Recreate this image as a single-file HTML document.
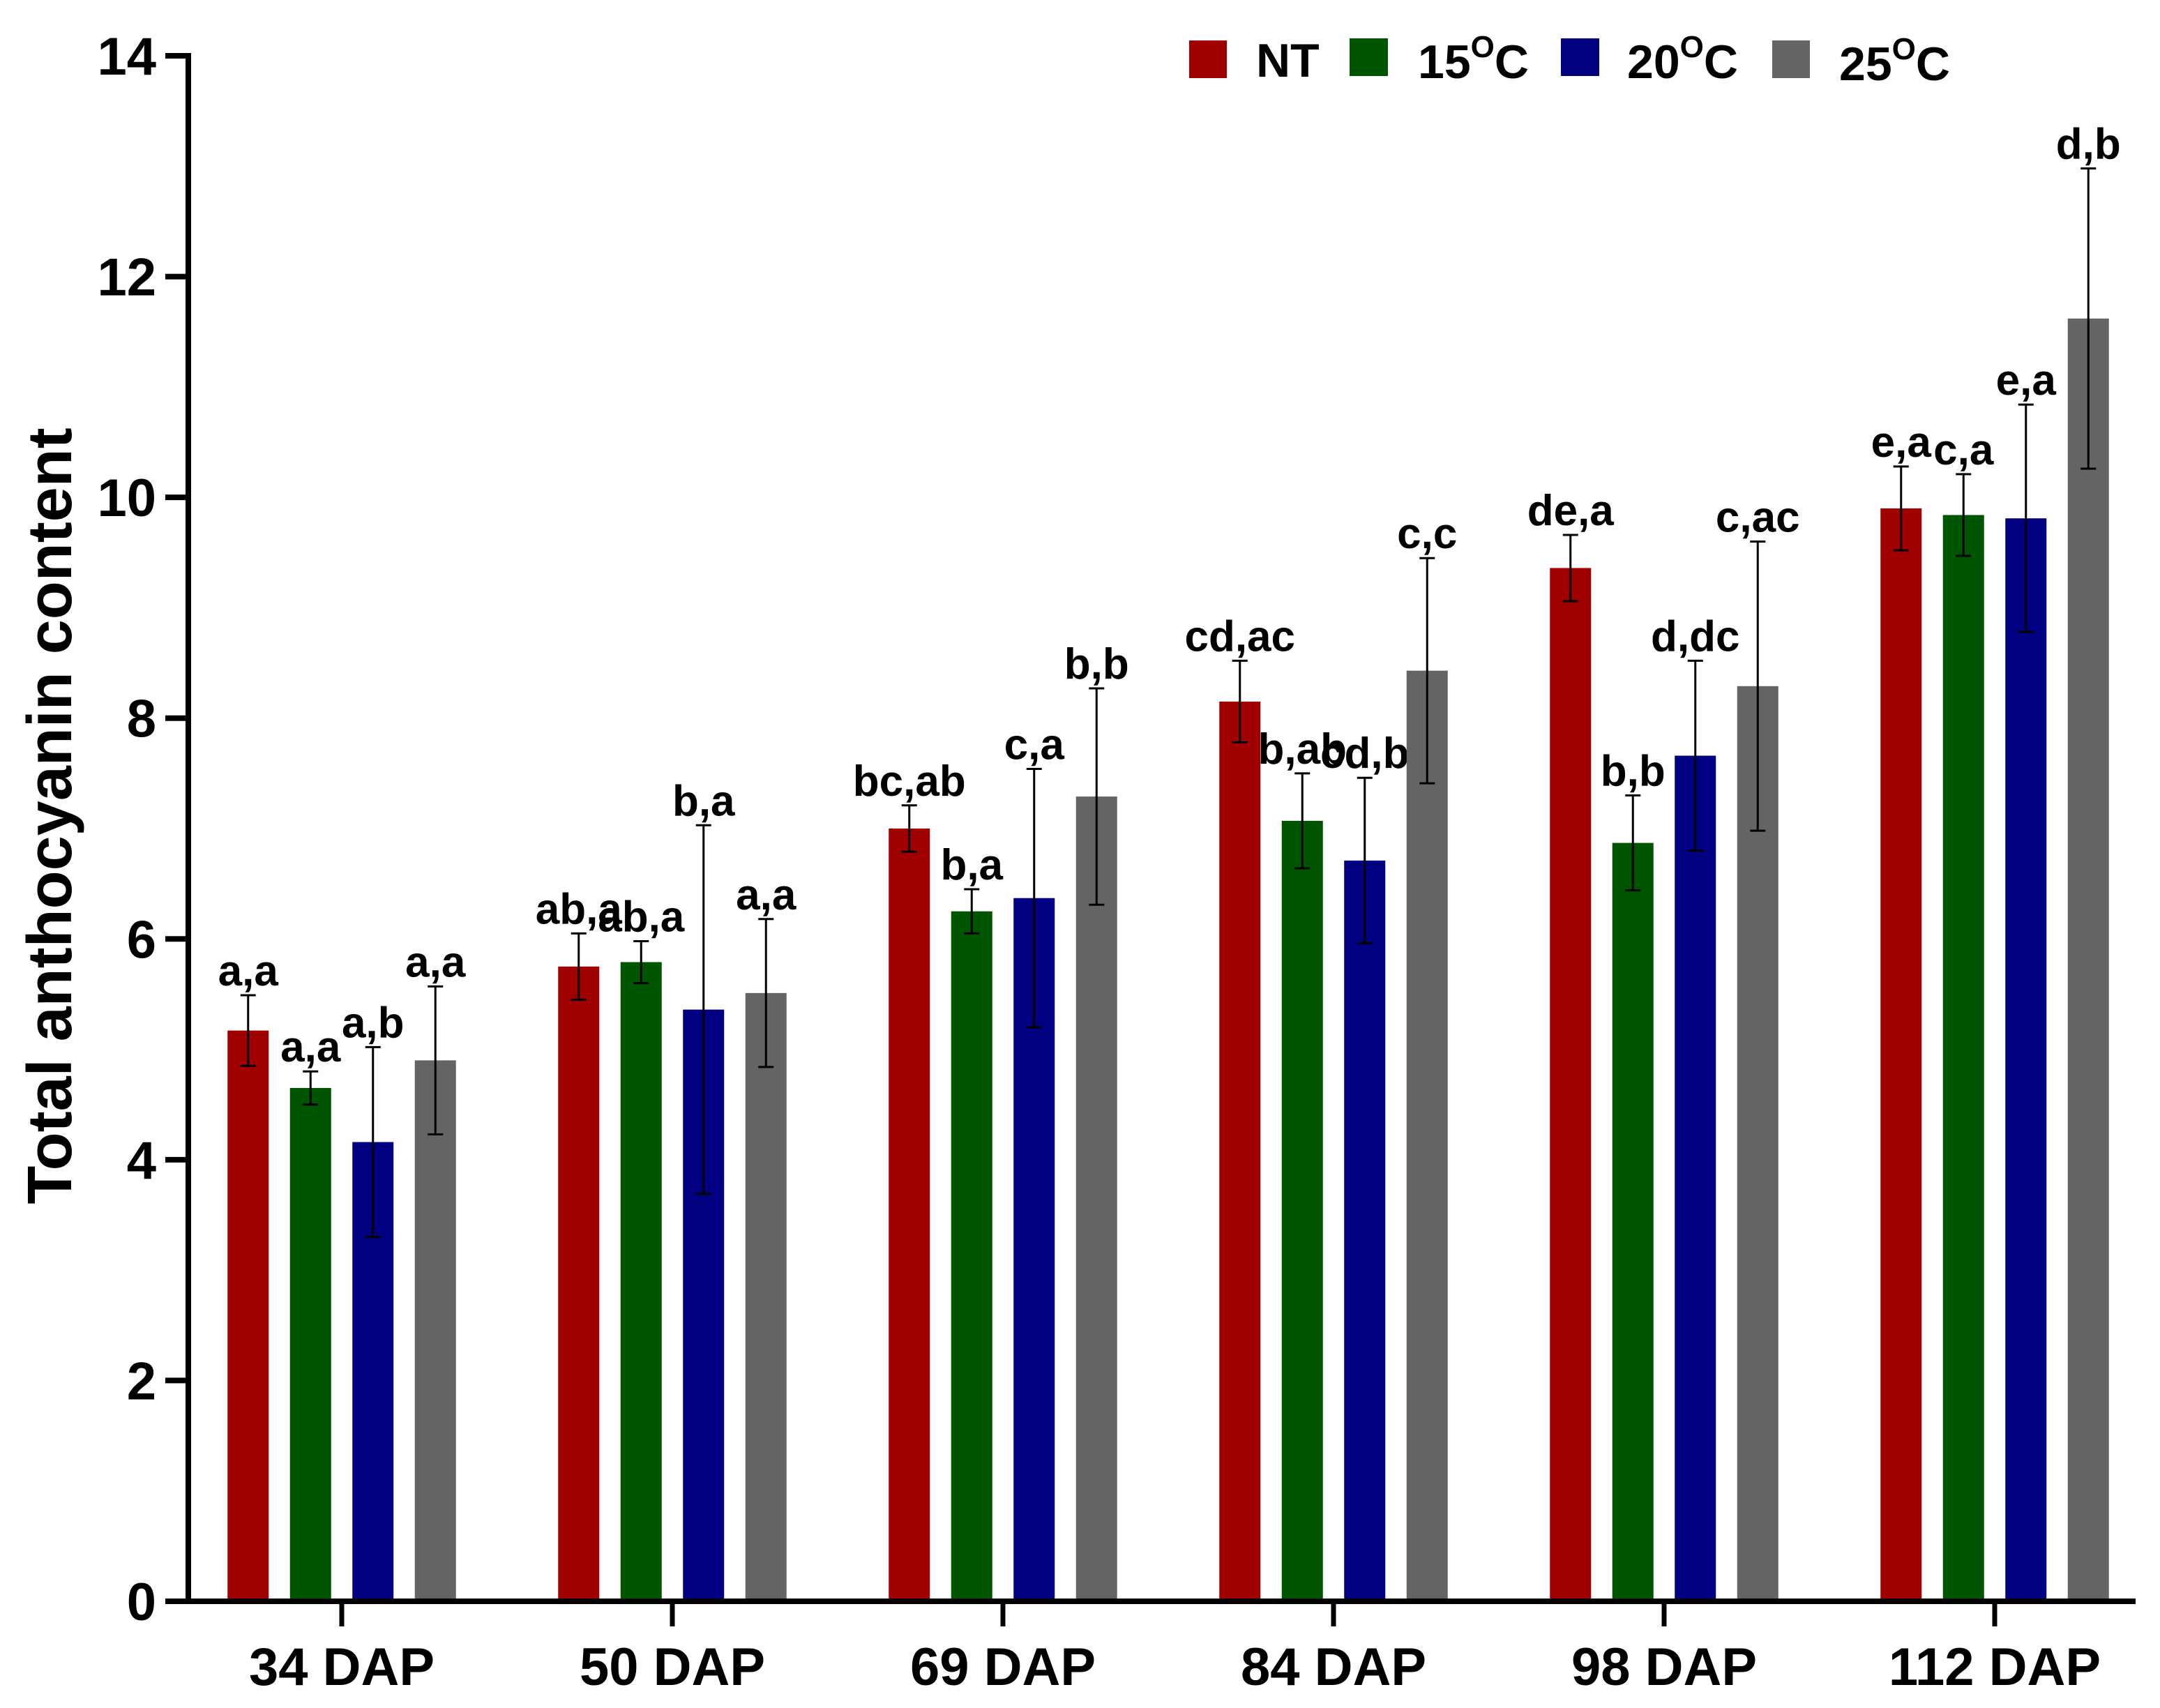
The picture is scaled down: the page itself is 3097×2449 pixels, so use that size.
<!DOCTYPE html>
<html><head><meta charset="utf-8"><style>
html,body{margin:0;padding:0;background:#fff}
svg{display:block}
text{font-family:"Liberation Sans",sans-serif;font-weight:bold;fill:#000}
</style></head><body>
<svg id="chart" width="3097" height="2449" viewBox="0 0 3097 2449" xmlns="http://www.w3.org/2000/svg">
<g id="legend">
<g><rect x="1705" y="58" width="54" height="54" fill="#a00000"/><text x="1801" y="110" font-size="68">NT</text></g>
<g><rect x="1935" y="55" width="55" height="54" fill="#005500"/><text x="2033" y="112" font-size="68">15<tspan dy="-30" font-size="44">O</tspan><tspan dy="30">C</tspan></text></g>
<g><rect x="2238" y="55" width="55" height="54" fill="#000080"/><text x="2333" y="112" font-size="68">20<tspan dy="-30" font-size="44">O</tspan><tspan dy="30">C</tspan></text></g>
<g><rect x="2541" y="58" width="54" height="54" fill="#646464"/><text x="2637" y="115" font-size="68">25<tspan dy="-30" font-size="44">O</tspan><tspan dy="30">C</tspan></text></g>
</g>
<text transform="translate(102,1170) rotate(-90)" text-anchor="middle" font-size="90">Total anthocyanin content</text>
</svg>
<script>
const categories = ["34 DAP","50 DAP","69 DAP","84 DAP","98 DAP","112 DAP"];
const seriesNames = ["NT","15C","20C","25C"];
const ntValues = [5.17,5.75,7.0,8.15,9.36,9.9];
const c15Values = [4.65,5.79,6.25,7.07,6.87,9.84];
const c20Values = [4.16,5.36,6.37,6.71,7.66,9.81];
const c25Values = [4.9,5.51,7.29,8.43,8.29,11.62];
const ntErr = [0.32,0.3,0.21,0.37,0.3,0.38];
const c15Err = [0.15,0.19,0.2,0.43,0.43,0.37];
const c20Err = [0.86,1.67,1.17,0.75,0.86,1.03];
const c25Err = [0.67,0.67,0.98,1.02,1.31,1.36];
const ntLabels = ["a,a","ab,a","bc,ab","cd,ac","de,a","e,a"];
const c15Labels = ["a,a","ab,a","b,a","b,ab","b,b","c,a"];
const c20Labels = ["a,b","b,a","c,a","cd,b","d,dc","e,a"];
const c25Labels = ["a,a","a,a","b,b","c,c","c,ac","d,b"];
const yTicks = [0,2,4,6,8,10,12,14];

const svg = document.getElementById('chart');
const NS = 'http://www.w3.org/2000/svg';
const X0 = 270, Y0 = 2296, YTOP = 80, YMAX = 14;
const groupStart = 490, groupStep = 474, barStep = 89.5, barW = 59;
const colors = ["#a00000","#005500","#000080","#646464"];
const values = [ntValues,c15Values,c20Values,c25Values];
const errs = [ntErr,c15Err,c20Err,c25Err];
const labels = [ntLabels,c15Labels,c20Labels,c25Labels];
function y(v){return Y0 - v*(Y0-YTOP)/YMAX;}
function xg(i){return groupStart + i*groupStep;}
function mk(tag, attrs){const e=document.createElementNS(NS,tag);for(const k in attrs)e.setAttribute(k,attrs[k]);svg.appendChild(e);return e;}

for (let s=0;s<4;s++){
  for (let i=0;i<categories.length;i++){
    const cx = xg(i) + (s-1.5)*barStep;
    const v = values[s][i], e = errs[s][i];
    const r = mk('rect',{x:cx-barW/2,y:y(v),width:barW,height:Y0-y(v),fill:colors[s]});
    
    
    const eb = mk('path',{d:`M${cx},${y(v+e)}V${y(v-e)}M${cx-11},${y(v+e)}H${cx+11}M${cx-11},${y(v-e)}H${cx+11}`,stroke:'#000','stroke-width':3,fill:'none'});
    
    
    const t = mk('text',{x:cx,y:y(v+e)-14,'text-anchor':'middle','font-size':62});
    t.textContent = labels[s][i];
    
    
  }
}
const ya = mk('path',{d:`M${X0},${YTOP-4}V${Y0+4}`,stroke:'#000','stroke-width':8});


const xa = mk('path',{d:`M${X0-33},${Y0}H3062`,stroke:'#000','stroke-width':8});


yTicks.forEach(v=>{
  const tk = mk('path',{d:`M${X0-33},${y(v)}H${X0}`,stroke:'#000','stroke-width':8});
  
  
  const tl = mk('text',{x:X0-46,y:y(v)+27,'text-anchor':'end','font-size':76});
  tl.textContent = v;
  
  
});
categories.forEach((c,i)=>{
  const tk = mk('path',{d:`M${xg(i)},${Y0}V${Y0+36}`,stroke:'#000','stroke-width':7});
  
  
  const tl = mk('text',{x:xg(i),y:Y0+120,'text-anchor':'middle','font-size':76});
  tl.textContent = c;
  
  
});
</script>
</body></html>
